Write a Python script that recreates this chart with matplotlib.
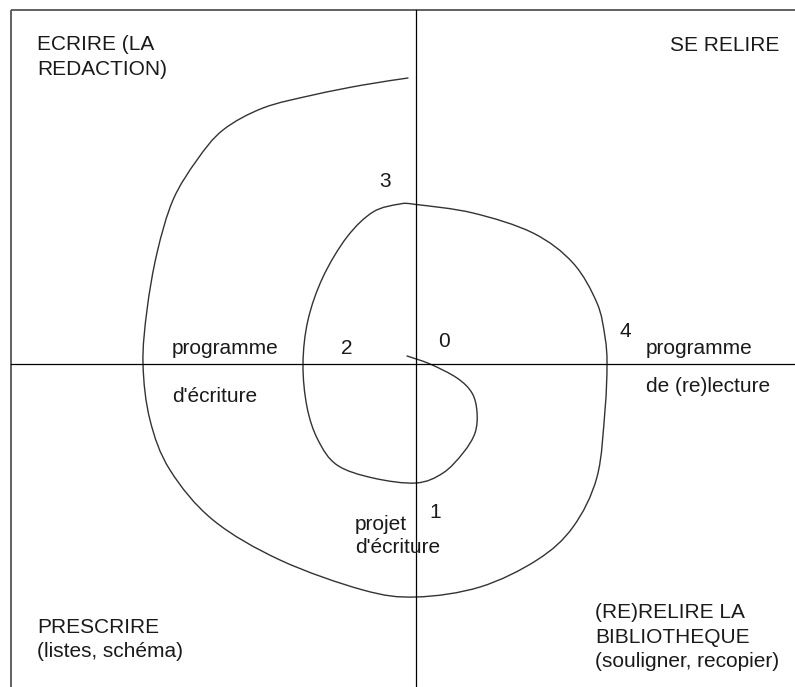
import matplotlib
matplotlib.use("Agg")
import matplotlib.pyplot as plt
from matplotlib.path import Path
from matplotlib.patches import PathPatch

plt.rcParams['font.family'] = ['Liberation Sans', 'DejaVu Sans']

# Spiral path (image pixel coordinates, y downward)
spiral_x = [407, 430, 457, 472, 477, 475, 463, 443, 416, 373, 337, 318, 307, 303,
            308, 323, 347, 373, 400, 416, 473, 533, 573, 597, 605, 607,
            605, 597, 573, 537, 480, 416, 363, 280, 213, 170, 150, 143,
            147, 157, 173, 197, 223, 263, 313, 363, 408]
spiral_y = [356, 364, 378, 393, 412, 433, 453, 473, 483, 478, 465, 440, 407, 364,
            320, 277, 237, 212, 204, 204.5, 213, 233, 263, 303, 337, 364,
            410, 477, 527, 560, 587, 597, 590, 560, 520, 470, 420, 364,
            310, 253, 200, 160, 130, 108, 95, 85, 78]

# Labels: (text, x, y, ha)
labels = [
    ("ECRIRE (LA", 37, 50, 'left'),
    ("REDACTION)", 37, 75, 'left'),
    ("SE RELIRE", 779, 51, 'right'),
    ("3", 385, 187, 'center'),
    ("programme", 172, 354, 'left'),
    ("d'écriture", 172, 402, 'left'),
    ("2", 347, 354, 'center'),
    ("0", 444, 347, 'center'),
    ("4", 625, 337, 'center'),
    ("programme", 646, 354, 'left'),
    ("de (re)lecture", 646, 392, 'left'),
    ("1", 435, 518, 'center'),
    ("projet", 355, 530, 'left'),
    ("d'écriture", 355, 553, 'left'),
    ("PRESCRIRE", 37, 633, 'left'),
    ("(listes, schéma)", 37, 657, 'left'),
    ("(RE)RELIRE LA", 595, 618, 'left'),
    ("BIBLIOTHEQUE", 595, 643, 'left'),
    ("(souligner, recopier)", 595, 667, 'left'),
]

W, H = 795, 687
fig = plt.figure(figsize=(W / 100, H / 100), dpi=100)
ax = fig.add_axes([0, 0, 1, 1])
ax.set_xlim(0, W)
ax.set_ylim(H, 0)
ax.axis('off')

# frame (top and left borders)
ax.plot([10.5, W], [10, 10], color='#555555', lw=1.3, solid_capstyle='butt')
ax.plot([10.5, 10.5], [10, H], color='#555555', lw=1.3, solid_capstyle='butt')

# axes cross
ax.plot([416, 416], [10, H], color='black', lw=0.9)
ax.plot([10.5, W], [364, 364], color='black', lw=0.9)

# spiral drawn as a smooth curve through the read points
pts = list(zip(spiral_x, spiral_y))
n = len(pts)
verts = [pts[0]]
codes = [Path.MOVETO]
for i in range(n - 1):
    p0 = pts[i - 1] if i > 0 else pts[i]
    p1 = pts[i]
    p2 = pts[i + 1]
    p3 = pts[i + 2] if i + 2 < n else pts[i + 1]
    c1 = (p1[0] + (p2[0] - p0[0]) / 6.0, p1[1] + (p2[1] - p0[1]) / 6.0)
    c2 = (p2[0] - (p3[0] - p1[0]) / 6.0, p2[1] - (p3[1] - p1[1]) / 6.0)
    verts += [c1, c2, p2]
    codes += [Path.CURVE4] * 3
ax.add_patch(PathPatch(Path(verts, codes), fill=False, edgecolor='#333333',
                       lw=1.0, capstyle='round', joinstyle='round'))

for txt, x, y, ha in labels:
    ax.text(x, y, txt, ha=ha, va='baseline', fontsize=15, color='#1a1a1a')

fig.savefig('out.png', dpi=100)
